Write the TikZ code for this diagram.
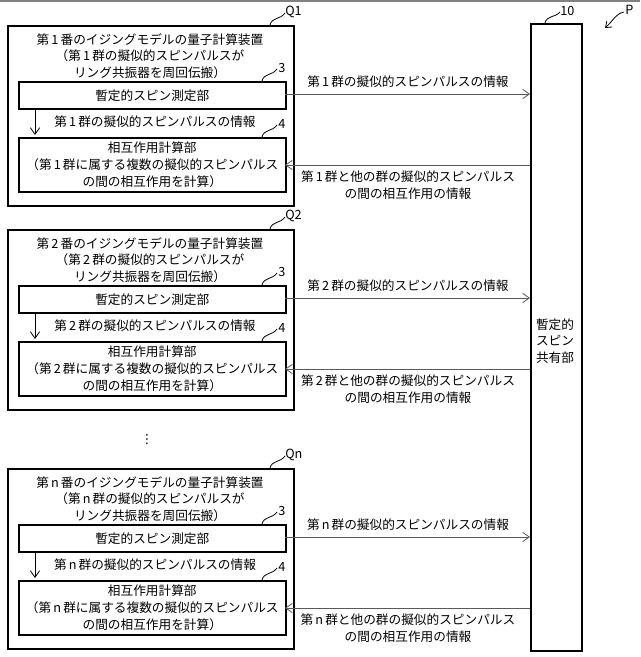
\documentclass[tikz,border=0pt]{standalone}
\usepackage{fontspec}
\setmainfont{Noto Sans CJK JP}
\newfontfamily\symfont{DejaVu Sans}
\usetikzlibrary{arrows.meta}
\begin{document}
\begin{tikzpicture}[x=0.75pt,y=-0.75pt,
  txt/.style={font=\fontsize{9.5}{12.5}\selectfont,align=center,inner sep=0pt},
  outer/.style={draw,line width=1.2pt},
  unit/.style={draw,line width=1.2pt},
  link/.style={draw,gray!70!black,-{Straight Barb[length=5pt,width=7pt]},line width=0.6pt},
  down/.style={draw,-{Straight Barb[length=5pt,width=7pt]},line width=0.6pt},
  lead/.style={line width=0.6pt}]
\useasboundingbox (0,0) rectangle (640,657);
\draw[line width=0.8pt,gray] (0,1) -- (640,1);
\node[outer,minimum width=51*0.75pt,minimum height=627*0.75pt,anchor=north west] (s) at (530,23) {};
\node[txt] (sl) at (555,341) {暫定的\\スピン\\共有部};
\coordinate (sq) at (545,23);
\draw[lead] (sq) .. controls (547,15) and (555,18) .. (560,12);
\node[txt,anchor=west] (sn) at (560,11) {10};
\coordinate (pp) at (605,28);
\draw[lead,-{Straight Barb[length=4pt,width=6pt]}] (624,12) .. controls (615,14) and (614,20) .. (pp);
\node[txt,anchor=west] (pn) at (625,10) {P};
\foreach \o/\n/\q in {0/1/Q1,204/2/Q2,443/n/Qn}{
  \begin{scope}[yshift=-\o*0.75pt]
  \node[outer,minimum width=286*0.75pt,minimum height=180*0.75pt,anchor=north west] (q) at (7,25) {};
  \draw[lead] (270,25) .. controls (272,17) and (280,20) .. (285,13);
  \node[txt,anchor=west] (ql) at (285,12) {\q};
  \node[txt] (t) at (150,56) {第\,\n\,番のイジングモデルの量子計算装置\\（第\,\n\,群の擬似的スピンパルスが\\リング共振器を周回伝搬）};
  \node[unit,minimum width=267*0.75pt,minimum height=27*0.75pt,anchor=north west,txt] (b3) at (18,81) {暫定的スピン測定部};
  \node[unit,minimum width=267*0.75pt,minimum height=54*0.75pt,anchor=north west,txt] (b4) at (18,137) {相互作用計算部\\（第\,\n\,群に属する複数の擬似的スピンパルス\\の間の相互作用を計算）};
  \draw[lead] (262,81) .. controls (264,73) and (272,76) .. (277,69);
  \node[txt,anchor=west] (n3) at (278,68) {3};
  \draw[lead] (262,137) .. controls (264,129) and (272,132) .. (277,125);
  \node[txt,anchor=west] (n4) at (278,124) {4};
  \coordinate (d1) at (35,108);
  \coordinate (d2) at (35,135);
  \draw[down] (d1) -- (d2);
  \node[txt] (il) at (155,122) {第\,\n\,群の擬似的スピンパルスの情報};
  \coordinate (r1) at (285,94);
  \coordinate (r2) at (530,94);
  \draw[link] (r1) -- (r2);
  \node[txt] (rl) at (408,82) {第\,\n\,群の擬似的スピンパルスの情報};
  \coordinate (l1) at (530,165);
  \coordinate (l2) at (285,165);
  \draw[link] (l1) -- (l2);
  \node[txt] (ll) at (408,185) {第\,\n\,群と他の群の擬似的スピンパルス\\の間の相互作用の情報};
  \end{scope}}
\node[txt] (dots) at (147,440) {\symfont ⋮};
\end{tikzpicture}
\end{document}
